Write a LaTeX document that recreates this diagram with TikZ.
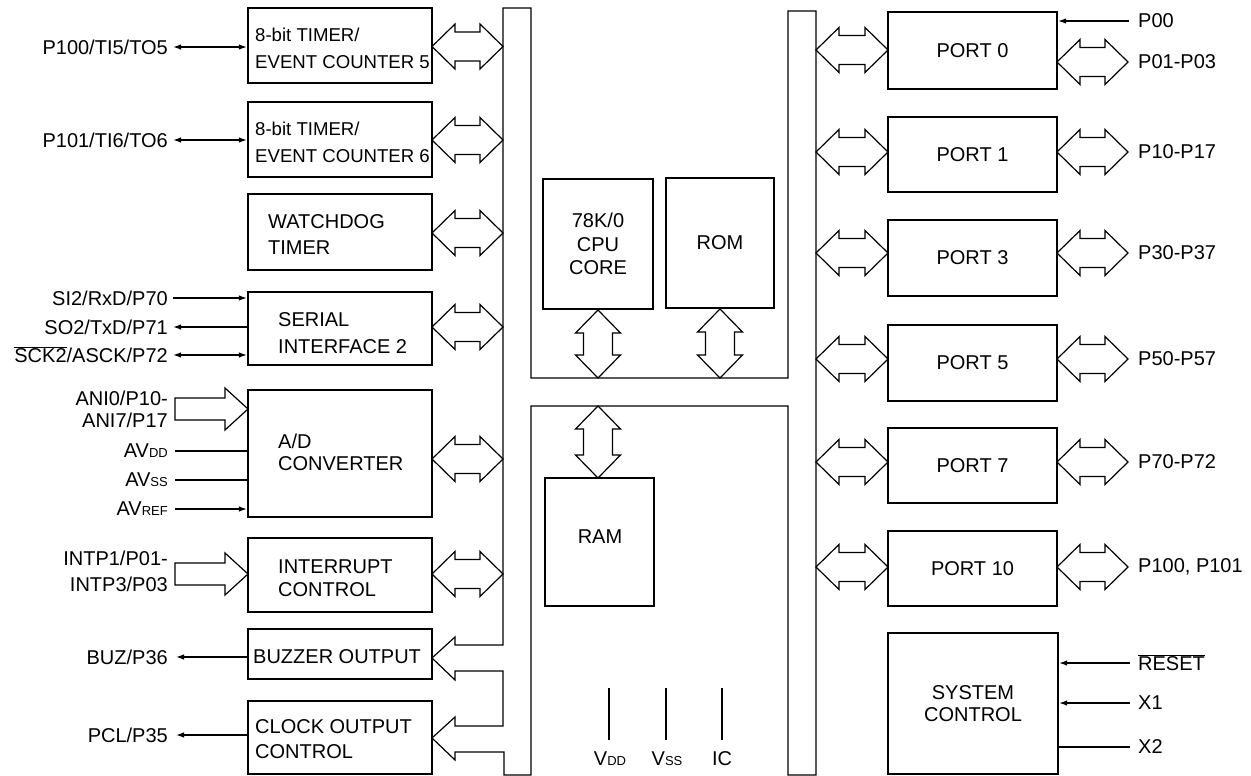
\documentclass[tikz,border=0pt]{standalone}
\usepackage{fontspec}
\setmainfont{Liberation Sans}
\usetikzlibrary{arrows.meta}
\newcommand\fah{23}
\newcommand\faw{22.5}
\newcommand\fas{14.5}
% horizontal double fat arrow: xa, xb, y
\newcommand\hdbl[3]{\draw[fat] (#1,#3) -- ({#1+\fah},{#3-\faw}) -- ({#1+\fah},{#3-\fas}) -- ({#2-\fah},{#3-\fas}) -- ({#2-\fah},{#3-\faw}) -- (#2,#3) -- ({#2-\fah},{#3+\faw}) -- ({#2-\fah},{#3+\fas}) -- ({#1+\fah},{#3+\fas}) -- ({#1+\fah},{#3+\faw}) -- cycle;}
% vertical double fat arrow: x, ya, yb
\newcommand\vdbl[3]{\draw[fat] (#1,#2) -- ({#1+\faw},{#2+\fah}) -- ({#1+\fas},{#2+\fah}) -- ({#1+\fas},{#3-\fah}) -- ({#1+\faw},{#3-\fah}) -- (#1,#3) -- ({#1-\faw},{#3-\fah}) -- ({#1-\fas},{#3-\fah}) -- ({#1-\fas},{#2+\fah}) -- ({#1-\faw},{#2+\fah}) -- cycle;}
% horizontal single fat arrow with closed tail: xtail, xtip, y
\newcommand\hsgl[3]{\draw[fat] (#1,{#3-11}) -- ({#2-23},{#3-11}) -- ({#2-23},{#3-21}) -- (#2,#3) -- ({#2-23},{#3+21}) -- ({#2-23},{#3+11}) -- (#1,{#3+11}) -- cycle;}
\newcommand\smc[1]{{\fontsize{13}{13}\selectfont #1}}
\begin{document}
\begin{tikzpicture}[x=1pt,y=-1pt,
  font=\fontsize{20}{24}\selectfont,
  box/.style={draw, line width=2.2pt, inner sep=0pt},
  fat/.style={draw, line width=1.2pt, line join=miter, fill=white},
  bus/.style={draw, line width=1.2pt, line join=miter},
  sig/.style={line width=1.3pt},
  lbl/.style={inner sep=0pt},
  tip/.style={-{Latex[length=8pt,width=5.5pt]}},
  bitip/.style={{Latex[length=8pt,width=5.5pt]}-{Latex[length=8pt,width=5.5pt]}},
  lbox/.style={box, minimum width=184pt},
  pbox/.style={box, minimum width=169pt, minimum height=76pt},
]
\useasboundingbox (0,0) rectangle (1251,776);

% ---------------- bus ----------------
\draw[bus] (531,378) -- (531,8) -- (503,8) -- (503,645) -- (455,645) -- (455,637) -- (432,658)
  -- (455,680) -- (455,671) -- (503,671) -- (503,726) -- (455,726) -- (455,717) -- (432,738)
  -- (455,760) -- (455,752) -- (504,752) -- (504,775) -- (531,775) -- (531,406) -- (788,406)
  -- (788,775) -- (816,775) -- (816,11) -- (788,11) -- (788,378) -- cycle;

% ---------------- left blocks ----------------
\node[lbox, minimum height=75pt] (t5) at (340,45.5) {};
\node[lbl, anchor=west, align=left, font=\fontsize{18.6}{27}\selectfont] (t5t) at (255,48.5) {8-bit TIMER/\\EVENT COUNTER 5};
\node[lbox, minimum height=75pt] (t6) at (340,139.5) {};
\node[lbl, anchor=west, align=left, font=\fontsize{18.6}{27}\selectfont] (t6t) at (255,142.5) {8-bit TIMER/\\EVENT COUNTER 6};
\node[lbox, minimum height=76pt] (wd) at (340,232) {};
\node[lbl, anchor=west, align=left, font=\fontsize{20}{26}\selectfont] (wdt) at (268,235) {WATCHDOG\\TIMER};
\node[lbox, minimum height=73pt] (ser) at (340,328.5) {};
\node[lbl, anchor=west, align=left, font=\fontsize{20}{27}\selectfont] (sert) at (278,333.5) {SERIAL\\INTERFACE 2};
\node[lbox, minimum height=127pt] (ad) at (340,453.5) {};
\node[lbl, anchor=west, align=left, font=\fontsize{20}{22}\selectfont] (adt) at (278,452.5) {A/D\\CONVERTER};
\node[lbox, minimum height=74pt] (intr) at (340,575) {};
\node[lbl, anchor=west, align=left, font=\fontsize{20}{23}\selectfont] (intrt) at (278,578.5) {INTERRUPT\\CONTROL};
\node[lbox, minimum height=50pt] (buz) at (340,654) {};
\node[lbl, anchor=west] (buzt) at (253,657) {BUZZER OUTPUT};
\node[lbox, minimum height=73pt] (clk) at (340,737.5) {};
\node[lbl, anchor=west, align=left, font=\fontsize{20}{25}\selectfont] (clkt) at (255,739.5) {CLOCK OUTPUT\\CONTROL};

% left block <-> bus arrows
\hdbl{432}{503}{46.5}
\hdbl{432}{503}{140}
\hdbl{432}{503}{233}
\hdbl{432}{503}{327}
\hdbl{432}{503}{459}
\hdbl{432}{503}{574}

% ---------------- left signals ----------------
\node[lbl, anchor=east] (s1) at (168,47) {P100/TI5/TO5};
\draw[sig, bitip] ([xshift=5pt]s1.east) -- (s1.east -| t5.west);
\node[lbl, anchor=east] (s2) at (168,140) {P101/TI6/TO6};
\draw[sig, bitip] ([xshift=5pt]s2.east) -- (s2.east -| t6.west);
\node[lbl, anchor=east] (s3) at (168,298) {SI2/RxD/P70};
\draw[sig, tip] ([xshift=5pt]s3.east) -- (s3.east -| ser.west);
\node[lbl, anchor=east] (s4) at (168,327) {SO2/TxD/P71};
\draw[sig, tip] (s4.east -| ser.west) -- ([xshift=5pt]s4.east);
\node[lbl, anchor=east] (s5) at (168,355) {$\overline{\hbox{SCK2}}$/ASCK/P72};
\draw[sig, bitip] ([xshift=5pt]s5.east) -- (s5.east -| ser.west);
\node[lbl, anchor=east, align=right, font=\fontsize{20}{22}\selectfont] (s6) at (168,409) {ANI0/P10-\\ANI7/P17};
\hsgl{175}{248}{409}
\node[lbl, anchor=east] (s7) at (168,451) {AV\smc{DD}};
\draw[sig] ([xshift=7pt]s7.east) -- (s7.east -| ad.west);
\node[lbl, anchor=east] (s8) at (168,480) {AV\smc{SS}};
\draw[sig] ([xshift=7pt]s8.east) -- (s8.east -| ad.west);
\node[lbl, anchor=east] (s9) at (168,509) {AV\smc{REF}};
\draw[sig, tip] ([xshift=7pt]s9.east) -- (s9.east -| ad.west);
\node[lbl, anchor=east, align=right, font=\fontsize{20}{26}\selectfont] (s10) at (168,571) {INTP1/P01-\\INTP3/P03};
\hsgl{175}{248}{574}
\node[lbl, anchor=east] (s11) at (168,657) {BUZ/P36};
\draw[sig, tip] (s11.east -| buz.west) -- ([xshift=8pt]s11.east);
\node[lbl, anchor=east] (s12) at (168,735) {PCL/P35};
\draw[sig, tip] (s12.east -| clk.west) -- ([xshift=8pt]s12.east);

% ---------------- centre ----------------
\node[box, minimum width=110pt, minimum height=130pt, align=center, font=\fontsize{20}{23.5}\selectfont] (cpu) at (598,244) {78K/0\\CPU\\CORE};
\node[box, minimum width=108pt, minimum height=130pt] (rom) at (720,243) {ROM};
\node[box, minimum width=109pt, minimum height=128pt] (ram) at (599.5,542) {};
\node[lbl] (ramt) at (600,537) {RAM};
\vdbl{598}{310}{378}
\vdbl{720}{309}{378}
\vdbl{598}{406}{478}

\node[lbl] (vdd) at (610,759) {V\smc{DD}};
\node[lbl] (vss) at (667,759) {V\smc{SS}};
\node[lbl] (ic) at (722,759) {IC};
\coordinate (vddt) at (609,688);
\coordinate (vsst) at (666,688);
\coordinate (ict) at (722,688);
\draw[line width=1.1pt] (vddt) -- ++(0,52);
\draw[line width=1.1pt] (vsst) -- ++(0,52);
\draw[line width=1.6pt] (ict) -- ++(0,52);

% ---------------- right ports ----------------
\node[pbox, minimum height=77pt] (p0) at (972.5,50.5) {PORT 0};
\node[pbox, minimum height=75pt] (p1) at (972.5,154.5) {PORT 1};
\node[pbox] (p3) at (972.5,258) {PORT 3};
\node[pbox] (p5) at (972.5,363) {PORT 5};
\node[pbox, minimum height=75pt] (p7) at (972.5,465.5) {PORT 7};
\node[pbox, minimum height=75pt] (p10) at (972.5,568.5) {PORT 10};
\node[box, minimum width=170pt, minimum height=141pt, align=center, font=\fontsize{20}{22}\selectfont] (sys) at (973,703.5) {SYSTEM\\CONTROL};

\hdbl{816}{888}{50}
\hdbl{816}{888}{152}
\hdbl{816}{888}{253}
\hdbl{816}{888}{359}
\hdbl{816}{888}{462}
\hdbl{816}{888}{567}

\hdbl{1057}{1128}{62}
\hdbl{1057}{1128}{152}
\hdbl{1057}{1128}{253}
\hdbl{1057}{1128}{359}
\hdbl{1057}{1128}{462}
\hdbl{1057}{1128}{567}

\node[lbl, anchor=west] (r0) at (1138,21) {P00};
\draw[sig, tip] ([xshift=-9pt]r0.west) -- (r0.west -| p0.east);
\node[lbl, anchor=west] (r1) at (1138,62) {P01-P03};
\node[lbl, anchor=west] (r2) at (1138,152) {P10-P17};
\node[lbl, anchor=west] (r3) at (1138,253) {P30-P37};
\node[lbl, anchor=west] (r4) at (1138,359) {P50-P57};
\node[lbl, anchor=west] (r5) at (1138,462) {P70-P72};
\node[lbl, anchor=west] (r6) at (1138,567) {P100, P101};
\node[lbl, anchor=west] (r7) at (1138,663) {$\overline{\hbox{RESET}}$};
\draw[sig, tip] ([xshift=-8pt]r7.west) -- (r7.west -| sys.east);
\node[lbl, anchor=west] (r8) at (1138,703) {X1};
\draw[sig, tip] ([xshift=-8pt]r8.west) -- (r8.west -| sys.east);
\node[lbl, anchor=west] (r9) at (1138,747) {X2};
\draw[sig] ([xshift=-8pt]r9.west) -- (r9.west -| sys.east);
\end{tikzpicture}
\end{document}
